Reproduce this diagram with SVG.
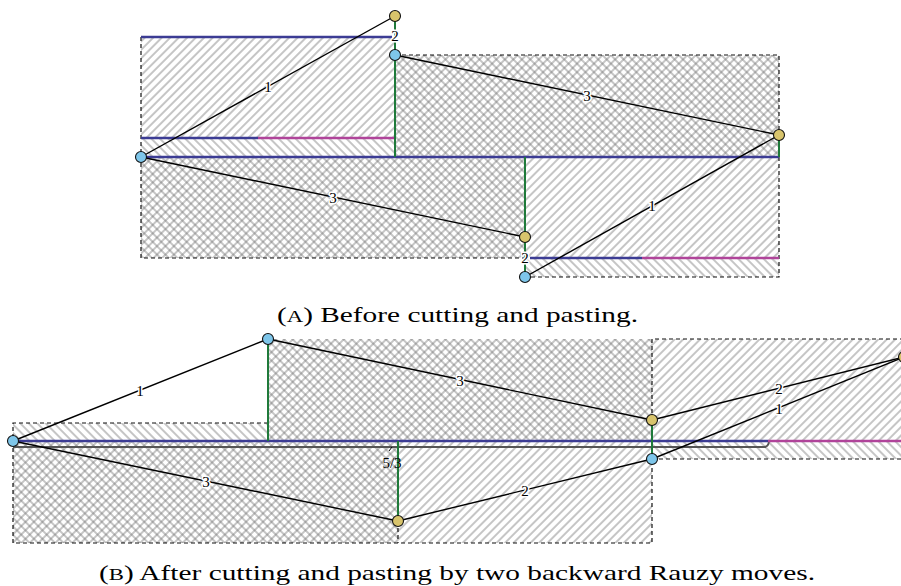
<svg xmlns="http://www.w3.org/2000/svg" width="901" height="586" viewBox="0 0 901 586">
<style>
.dash{fill:none;stroke:#111;stroke-width:1.2;stroke-dasharray:4 3}
.blue{stroke:#3c3c94;stroke-width:2.4;fill:none}
.mag{stroke:#b0449a;stroke-width:2.4;fill:none}
.grn{stroke:#1f7a3a;stroke-width:2;fill:none}
.gry{stroke:#555;stroke-width:1.8;fill:none}
.edge{stroke:#000;stroke-width:1.4;fill:none}
.lbl{font-family:"Liberation Serif","DejaVu Serif",serif;font-size:15px;fill:#000;text-anchor:middle;stroke:#fff;stroke-width:3;paint-order:stroke;stroke-linejoin:round}
.cap{font-family:"Liberation Serif","DejaVu Serif",serif;font-size:22px;fill:#000}
.bdot{fill:#7ec6ea;stroke:#111;stroke-width:1.1}
.ydot{fill:#d8c46c;stroke:#111;stroke-width:1.1}
</style>
<defs>
<pattern id="hNE" width="6" height="6" patternUnits="userSpaceOnUse" patternTransform="rotate(45)"><line x1="3" y1="0" x2="3" y2="6" stroke="#6e6e6e" stroke-width="0.8"/></pattern>
<pattern id="hNW" width="6" height="6" patternUnits="userSpaceOnUse" patternTransform="rotate(-45)"><line x1="3" y1="0" x2="3" y2="6" stroke="#6e6e6e" stroke-width="0.8"/></pattern>
<pattern id="hX" width="6" height="6" patternUnits="userSpaceOnUse" patternTransform="rotate(45)"><line x1="3" y1="0" x2="3" y2="6" stroke="#6e6e6e" stroke-width="0.8"/><line x1="0" y1="3" x2="6" y2="3" stroke="#6e6e6e" stroke-width="0.8"/></pattern>
</defs>
<rect width="901" height="586" fill="#fff"/>

<g id="regions">
<!-- A -->
<rect x="141" y="37" width="254" height="101" fill="url(#hNE)"/>
<rect x="141" y="138" width="254" height="19" fill="url(#hNW)"/>
<rect x="395" y="55" width="384" height="102" fill="url(#hX)"/>
<rect x="141" y="157" width="384" height="101" fill="url(#hX)"/>
<rect x="525" y="157" width="254" height="101" fill="url(#hNE)"/>
<rect x="525" y="258" width="254" height="19" fill="url(#hNW)"/>
<path class="dash" d="M141,37 V258 H525 M395,55 H779 V135 M779,157 V277 H525"/>
<!-- B -->
<rect x="13" y="423" width="255" height="18" fill="url(#hNW)"/>
<rect x="268" y="339" width="384" height="102" fill="url(#hX)"/>
<rect x="652" y="339" width="249" height="102" fill="url(#hNE)"/>
<rect x="652" y="441" width="249" height="18" fill="url(#hNW)"/>
<rect x="13" y="441" width="385" height="102" fill="url(#hX)"/>
<rect x="398" y="441" width="254" height="102" fill="url(#hNE)"/>
<path class="dash" d="M268,423 H13 V543 H652 V459 M652,420 V339 H901 M652,459 H901 M398,521 V543"/>
</g>

<g id="connectors">
<!-- A -->
<line class="blue" x1="141" y1="37" x2="392" y2="37"/>
<line class="blue" x1="141" y1="138" x2="258" y2="138"/>
<line class="mag" x1="258" y1="138" x2="395" y2="138"/>
<line class="blue" x1="141" y1="157" x2="779" y2="157"/>
<line class="blue" x1="530" y1="258" x2="642" y2="258"/>
<line class="mag" x1="642" y1="258" x2="779" y2="258"/>
<line class="grn" x1="395" y1="16" x2="395" y2="157"/>
<line class="grn" x1="525" y1="157" x2="525" y2="277"/>
<line class="grn" x1="779" y1="135" x2="779" y2="157"/>
<line class="edge" x1="141" y1="157" x2="395" y2="16"/>
<line class="edge" x1="395" y1="55" x2="779" y2="135"/>
<line class="edge" x1="141" y1="157" x2="525" y2="237"/>
<line class="edge" x1="525" y1="277" x2="779" y2="135"/>
<text class="lbl" x="268" y="92">1</text>
<text class="lbl" x="587" y="101">3</text>
<text class="lbl" x="333" y="203">3</text>
<text class="lbl" x="652" y="211">1</text>
<text class="lbl" x="395" y="41">2</text>
<text class="lbl" x="525" y="263">2</text>
<!-- B -->
<line class="gry" x1="13" y1="447" x2="766" y2="447"/>
<path class="gry" d="M764,447 Q768,447 769,442"/>
<line class="blue" x1="13" y1="441" x2="768" y2="441"/>
<line class="mag" x1="768" y1="441" x2="901" y2="441"/>
<line class="grn" x1="268" y1="339" x2="268" y2="441"/>
<line class="grn" x1="652" y1="420" x2="652" y2="459"/>
<line class="grn" x1="398" y1="441" x2="398" y2="521"/>
<path d="M389,451 L392,447" stroke="#000" stroke-width="1" fill="none"/>
<line class="edge" x1="13" y1="441" x2="268" y2="339"/>
<line class="edge" x1="268" y1="339" x2="652" y2="420"/>
<line class="edge" x1="652" y1="420" x2="904" y2="357"/>
<line class="edge" x1="652" y1="459" x2="904" y2="357"/>
<line class="edge" x1="13" y1="441" x2="398" y2="521"/>
<line class="edge" x1="398" y1="521" x2="652" y2="459"/>
<text class="lbl" x="140" y="396">1</text>
<text class="lbl" x="460" y="386">3</text>
<text class="lbl" x="779" y="394">2</text>
<text class="lbl" x="779" y="414">1</text>
<text class="lbl" x="206" y="487">3</text>
<text class="lbl" x="525" y="496">2</text>
<text class="lbl" x="392" y="468" style="stroke:none">5/3</text>
</g>

<g id="nA1"><circle class="bdot" cx="141" cy="157" r="5.5"/></g>
<g id="nA2"><circle class="ydot" cx="395" cy="16" r="5.5"/></g>
<g id="nA3"><circle class="bdot" cx="395" cy="55" r="5.5"/></g>
<g id="nA4"><circle class="ydot" cx="779" cy="135" r="5.5"/></g>
<g id="nA5"><circle class="ydot" cx="525" cy="237" r="5.5"/></g>
<g id="nA6"><circle class="bdot" cx="525" cy="277" r="5.5"/></g>
<g id="nB1"><circle class="bdot" cx="13" cy="441" r="5.5"/></g>
<g id="nB2"><circle class="bdot" cx="268" cy="339" r="5.5"/></g>
<g id="nB3"><circle class="ydot" cx="652" cy="420" r="5.5"/></g>
<g id="nB4"><circle class="bdot" cx="652" cy="459" r="5.5"/></g>
<g id="nB5"><circle class="ydot" cx="398" cy="521" r="5.5"/></g>
<g id="nB6"><circle class="ydot" cx="904" cy="357" r="5.5"/></g>

<text class="cap" x="277" y="322" textLength="361" lengthAdjust="spacingAndGlyphs">(<tspan font-size="17">A</tspan>) Before cutting and pasting.</text>
<text class="cap" x="99" y="580" textLength="716" lengthAdjust="spacingAndGlyphs">(<tspan font-size="17">B</tspan>) After cutting and pasting by two backward Rauzy moves.</text>
</svg>
